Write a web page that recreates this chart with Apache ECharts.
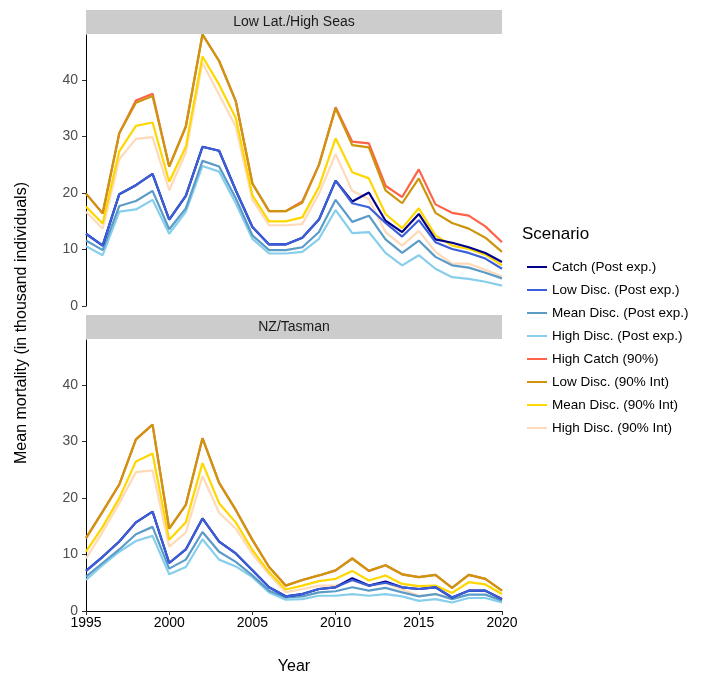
<!DOCTYPE html>
<html><head><meta charset="utf-8">
<script src="https://cdn.jsdelivr.net/npm/echarts@6/dist/echarts.min.js"></script>
<style>html,body{margin:0;padding:0;background:#fff}#c{width:721px;height:680px}</style>
</head><body><div id="c"></div>
<script>
const years = [];
for (let y = 1995; y <= 2020; y++) years.push(y);
const names = ["Catch (Post exp.)","Low Disc. (Post exp.)","Mean Disc. (Post exp.)","High Disc. (Post exp.)","High Catch (90%)","Low Disc. (90% Int)","Mean Disc. (90% Int)","High Disc. (90% Int)"];
const colors = ["#00008B","#3A5FD9","#5B9BC8","#87CEEB","#FF6347","#CD950C","#FFD700","#FFDAB9"];
const panels = ["Low Lat./High Seas","NZ/Tasman"];
const yTicks = [0,10,20,30,40];
const xTicks = [1995,2000,2005,2010,2015,2020];

const topCatch   = [12.8,10.7,19.8,21.4,23.4,15.3,19.5,28.2,27.5,20.5,14,10.9,10.9,12.1,15.3,22.2,18.5,20.1,15.1,13.1,16.3,11.8,11.2,10.4,9.4,7.8];
const topLow     = [12.8,10.7,19.8,21.4,23.4,15.3,19.5,28.2,27.5,20.5,14,10.9,10.9,12.1,15.3,22.2,18.2,17.5,14.7,12.3,15.2,11.3,10.1,9.4,8.4,6.6];
const topMean    = [11.6,9.9,17.7,18.6,20.4,13.6,17.3,25.7,24.7,19.1,12.5,9.9,9.9,10.4,13.1,18.8,14.9,16,11.8,9.4,11.6,8.7,7.2,6.8,5.9,4.9];
const topHigh    = [10.6,9,16.7,17.1,18.8,12.8,16.7,24.8,23.8,18.2,11.9,9.3,9.3,9.6,11.9,17,12.9,13.1,9.4,7.2,9,6.6,5.1,4.8,4.3,3.6];
const topHC90    = [19.9,16.4,30.6,36.4,37.6,24.7,31.8,48.1,43.4,36.3,21.7,16.8,16.8,18.5,25,35.2,29.1,28.8,21.3,19.3,24.2,18,16.5,16,14.1,11.3];
const topLow90   = [19.9,16.4,30.6,36,37.2,24.7,31.8,48.1,43.4,36.3,21.7,16.8,16.8,18.3,25,35,28.5,28.1,20.5,18.2,22.6,16.5,14.7,13.7,12.1,9.6];
const topMean90  = [17.6,14.6,27.4,31.9,32.5,22,28.2,44.2,39.2,33.3,19.6,15,15,15.7,21.1,29.7,23.7,22.6,16.3,13.8,17.3,12.5,10.7,10.1,9.1,7.2];
const topHigh90  = [16.7,13.7,26,29.6,29.9,20.5,27.2,43.1,37.4,31.8,18.8,14.3,14.3,14.5,19.9,26.9,20.4,18.9,13.1,10.7,13.3,9.6,7.5,7.5,6.4,5.2];

const botCatch   = [7.1,9.6,12.3,15.7,17.6,8.5,10.9,16.4,12.3,10.2,7.2,4.2,2.6,3,3.9,4.2,5.8,4.5,5.2,4.2,3.9,4.2,2.4,3.6,3.6,2.1];
const botLow     = [7.1,9.6,12.3,15.7,17.6,8.5,10.9,16.4,12.3,10.2,7.2,4.2,2.6,3,3.9,4.2,5.5,4.5,5,4.2,3.9,4.2,2.4,3.6,3.6,2.1];
const botMean    = [6.1,8.5,10.9,13.6,14.9,7.5,9.1,14,10.5,8.7,6.3,3.6,2.4,2.6,3.3,3.5,4.2,3.6,4.1,3.3,2.6,3,2.1,2.9,2.9,1.8];
const botHigh    = [5.5,8.1,10.5,12.4,13.3,6.5,7.8,12.7,9.1,7.9,6,3.3,2,2.1,2.7,2.7,3,2.7,3,2.6,1.8,2.1,1.5,2.3,2.3,1.5];
const botHC90    = [12.9,17.6,22.4,30.4,33,14.6,18.8,30.6,22.7,17.9,12.6,7.8,4.5,5.5,6.3,7.2,9.3,7.1,8.1,6.5,6,6.4,4.1,6.4,5.7,3.6];
const botLow90   = [12.9,17.6,22.4,30.4,33,14.6,18.8,30.6,22.7,17.9,12.6,7.8,4.5,5.5,6.3,7.2,9.3,7.1,8.1,6.5,6,6.4,4.1,6.4,5.7,3.6];
const botMean90  = [10.5,14.9,20,26.5,27.9,12.6,15.7,26.2,19.1,15.7,10.8,6.9,3.8,4.5,5.3,5.7,7.1,5.4,6.3,4.8,4.4,4.5,3.2,5.1,4.7,3];
const botHigh90  = [9.3,14,19.1,24.6,24.9,11.4,13.9,23.9,17.4,14.6,10.1,6.5,3.3,3.9,4.5,4.5,5.4,4.5,4.9,3.8,2.7,3,2.4,3.6,3.5,2.4];

const topData = [topCatch,topLow,topMean,topHigh,topHC90,topLow90,topMean90,topHigh90];
const botData = [botCatch,botLow,botMean,botHigh,botHC90,botLow90,botMean90,botHigh90];
const drawOrder = [7,6,4,5,3,2,0,1];

const series = [];
[topData, botData].forEach((pd, gi) => {
  drawOrder.forEach(i => {
    series.push({
      name: names[i], type: 'line', xAxisIndex: gi, yAxisIndex: gi,
      data: years.map((y, k) => [y, pd[i][k]]),
      showSymbol: false, lineStyle: { color: colors[i], width: 2.2 }, itemStyle: { color: colors[i] },
      z: 2 + drawOrder.indexOf(i)
    });
  });
});

const txt = { fontFamily: 'Liberation Sans, Arial, sans-serif' };
function yAx(gi) {
  return { type: 'value', gridIndex: gi, min: 0, max: 48,
    axisLine: { show: true, lineStyle: { color: '#000', width: 1 } },
    axisTick: { show: true, length: 4, customValues: yTicks, lineStyle: { color: '#333' } },
    axisLabel: { color: '#4d4d4d', fontSize: 14, customValues: yTicks, ...txt }, splitLine: { show: false } };
}
const chart = echarts.init(document.getElementById('c'));
chart.setOption({
  backgroundColor: '#fff', animation: false, textStyle: txt,
  grid: [
    { left: 86, top: 35, width: 416, height: 271 },
    { left: 86, top: 340, width: 416, height: 271 }
  ],
  xAxis: [
    { type: 'value', gridIndex: 0, min: 1995, max: 2020, interval: 5, show: false },
    { type: 'value', gridIndex: 1, min: 1995, max: 2020, interval: 5,
      axisLine: { show: true, onZero: false, lineStyle: { color: '#000' } },
      axisTick: { show: true, length: 4, customValues: xTicks, lineStyle: { color: '#333' } },
      axisLabel: { color: '#000', fontSize: 14, margin: 5, customValues: xTicks, formatter: v => String(v), ...txt }, splitLine: { show: false },
      name: 'Year', nameLocation: 'middle', nameGap: 48, nameTextStyle: { fontSize: 16, color: '#000', ...txt } }
  ],
  yAxis: [yAx(0), yAx(1)],
  legend: {
    data: names, orient: 'vertical', left: 522, top: 255, itemGap: 9,
    itemWidth: 20, itemHeight: 16, icon: 'path://M0,7 L20,7 L20,9 L0,9 Z',
    textStyle: { fontSize: 13.5, color: '#000', ...txt }
  },
  graphic: [
    { type: 'rect', shape: { x: 86, y: 10, width: 416, height: 24 }, style: { fill: '#cccccc' } },
    { type: 'text', x: 294, y: 22, style: { text: panels[0], fontSize: 14, fill: '#1a1a1a', align: 'center', verticalAlign: 'middle', ...txt } },
    { type: 'rect', shape: { x: 86, y: 315, width: 416, height: 24 }, style: { fill: '#cccccc' } },
    { type: 'text', x: 294, y: 327, style: { text: panels[1], fontSize: 14, fill: '#1a1a1a', align: 'center', verticalAlign: 'middle', ...txt } },
    { type: 'text', x: 522, y: 226, style: { text: 'Scenario', fontSize: 17, fill: '#000', ...txt } },
    { type: 'text', x: 22, y: 323, rotation: Math.PI / 2, style: { text: 'Mean mortality (in thousand individuals)', fontSize: 16, fill: '#000', align: 'center', verticalAlign: 'middle', ...txt } }
  ],
  series: series
});
</script></body></html>
